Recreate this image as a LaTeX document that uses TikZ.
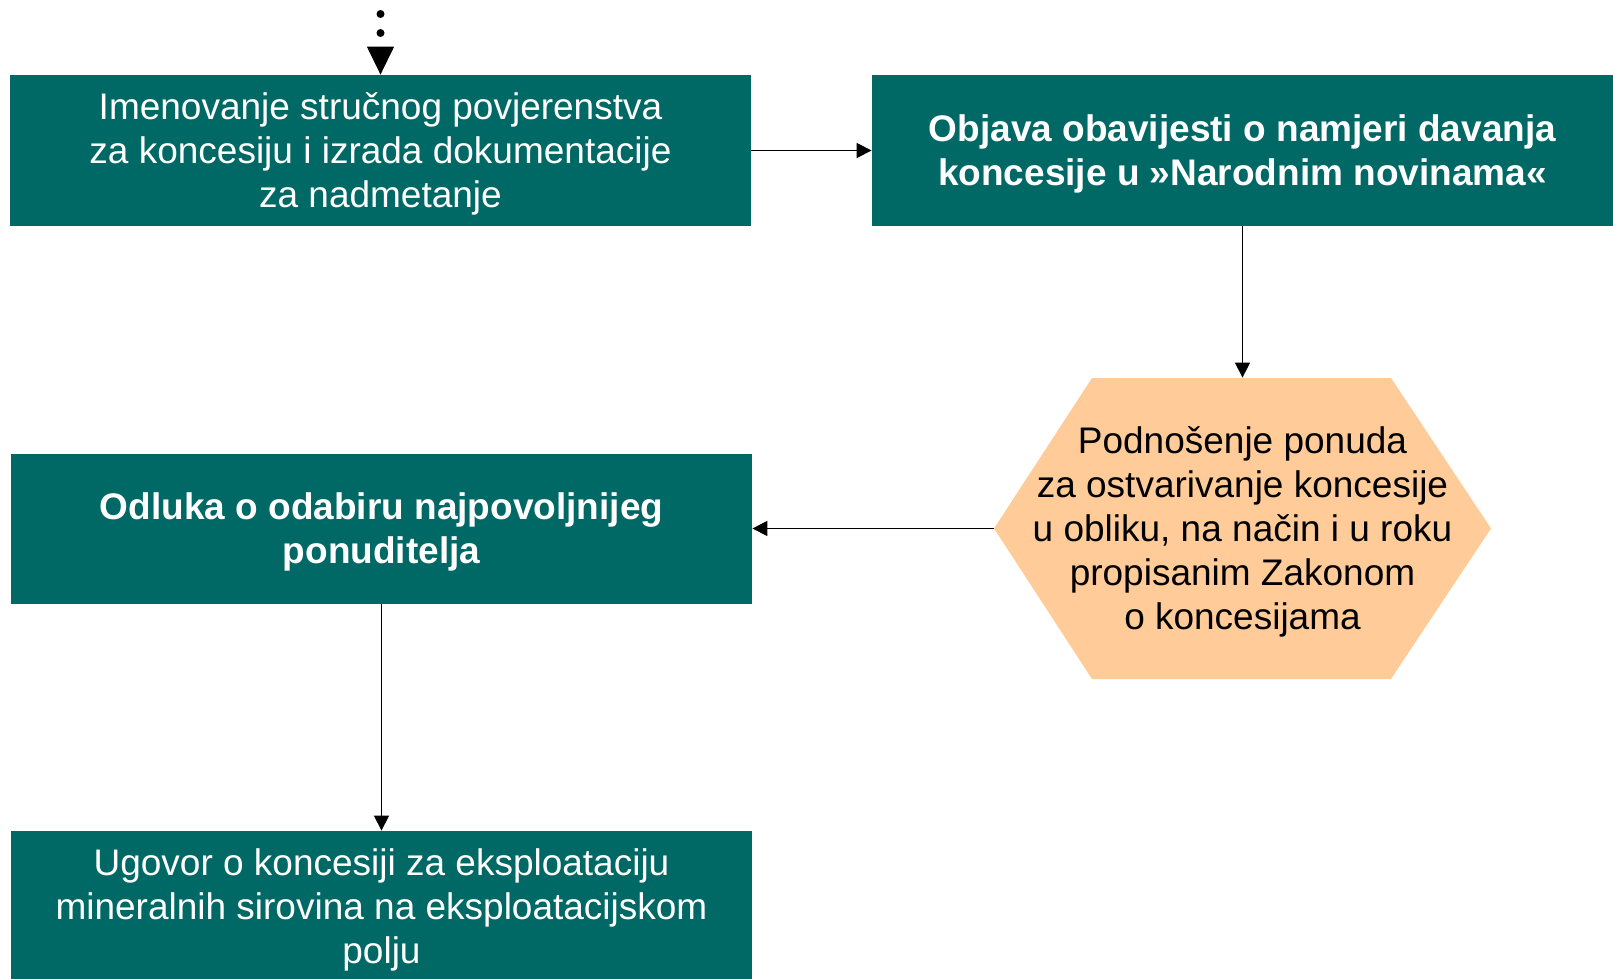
\documentclass[tikz,border=0pt]{standalone}
\usepackage{fontspec}
\setmainfont{Liberation Sans}
\usepackage{tikz}
\usetikzlibrary{arrows.meta, shapes, positioning}
\usepackage{xcolor}
\definecolor{darkteal}{RGB}{0,105,102}
\tikzset{tealbox/.style={rectangle, fill=darkteal, text=white, minimum width=370.5pt, minimum height=75pt, inner sep=0pt, align=center, text depth=0pt, font=\fontsize{18.5pt}{22pt}\selectfont}}
\definecolor{peach}{RGB}{255,204,153}
\tikzset{peachhex/.style={rectangle, minimum width=248.5pt, minimum height=150.5pt, inner sep=0pt, align=center, text depth=0pt, font=\fontsize{18.5pt}{22pt}\selectfont},
flowarrow/.style={-{Triangle[length=7.5pt, width=7.5pt]}, line width=0.65pt}}

\begin{document}
\begin{tikzpicture}[line join=bevel]
        \useasboundingbox (0pt, 0pt) rectangle (806.5pt, -489.5pt);
        % Hexagon
        \fill[peach] (497pt, -264.25pt) -- (546pt, -189pt) -- (695.5pt, -189pt) -- (745.5pt, -264.25pt) -- (695.5pt, -339.5pt) -- (546pt, -339.5pt) -- cycle;
        % Boxes
        \node[tealbox, minimum height=75.5pt] (imenovanje) at (190.25pt, -75.25pt) {Imenovanje stručnog povjerenstva\\za koncesiju i izrada dokumentacije\\za nadmetanje};
        \node[tealbox, minimum height=75.5pt, font=\fontsize{18.5pt}{22pt}\selectfont\bfseries] (objava) at (621.25pt, -75.25pt) {Objava obavijesti o namjeri davanja\\koncesije u »Narodnim novinama«};
        \node[peachhex] (ponude) at (621.25pt, -264.25pt) {Podnošenje ponuda\\za ostvarivanje koncesije\\u obliku, na način i u roku\\propisanim Zakonom\\o koncesijama};
        \node[tealbox, font=\fontsize{18.5pt}{22pt}\selectfont\bfseries] (odluka) at (190.75pt, -264.25pt) {Odluka o odabiru najpovoljnijeg\\ponuditelja};
        \node[tealbox] (ugovor) at (190.75pt, -453pt) {Ugovor o koncesiji za eksploataciju\\mineralnih sirovina na eksploatacijskom\\polju};
        % Dots above
        \foreach \y in {7pt, 16.5pt} {
            \fill (190.25pt, -\y) circle (2pt);
        }
        \coordinate (pocetak) at (190.25pt, -23.5pt);
        \draw[-{Triangle[length=14pt, width=13.5pt]}, line width=0.65pt] (pocetak) -- (imenovanje.north);
        % Arrows
        \draw[flowarrow] (imenovanje) -- (objava);
        \draw[flowarrow] (objava) -- (ponude);
        \draw[flowarrow] (ponude) -- (odluka);
        \draw[flowarrow] (odluka) -- (ugovor);
    \end{tikzpicture}
\end{document}
